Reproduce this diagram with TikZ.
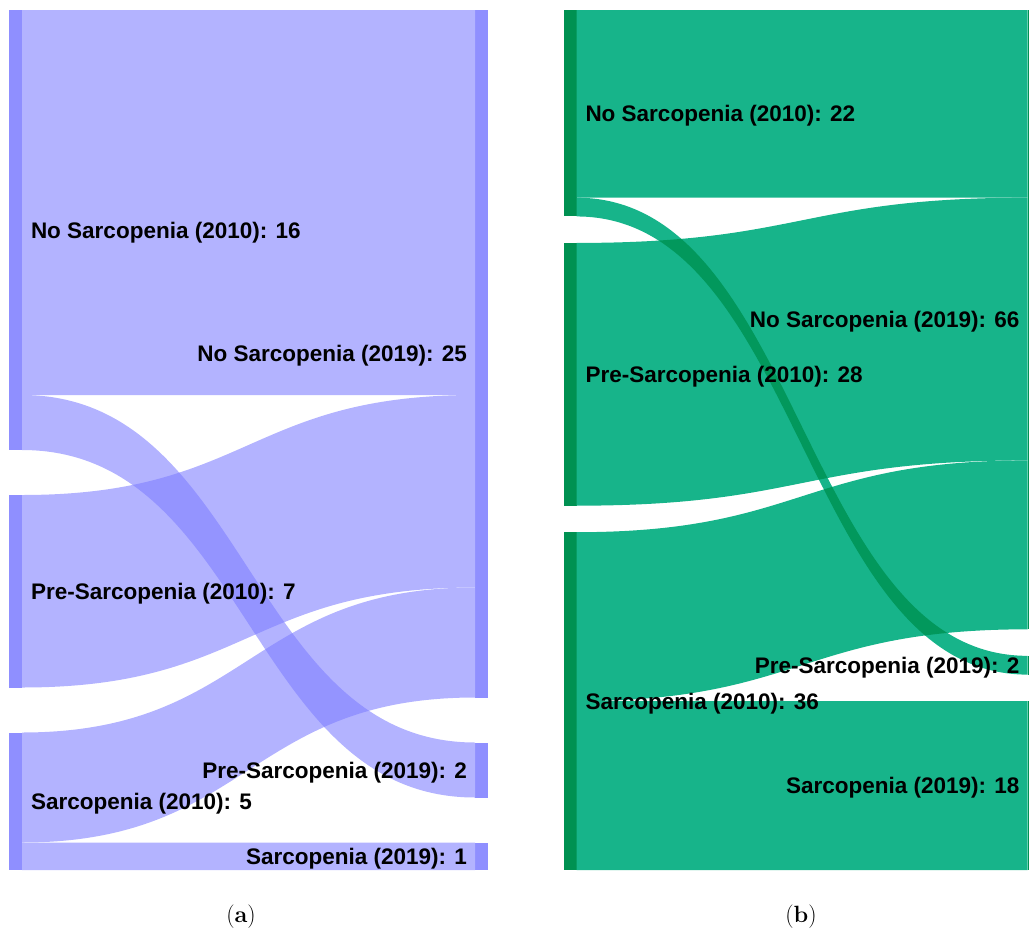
\documentclass[tikz,border=0pt]{standalone}
\usepackage{fontspec}
\newfontfamily\labfont{Liberation Sans}
\usetikzlibrary{calc}
\definecolor{nodeA}{RGB}{143,143,255}
\definecolor{flowA}{RGB}{179,179,255}
\definecolor{ovA}{RGB}{148,148,255}
\definecolor{nodeB}{RGB}{0,145,82}
\definecolor{flowB}{RGB}{23,180,138}
\definecolor{ovB}{RGB}{2,152,92}
% band of given thickness from point #2 (top left) to point #3 (top right)
\newcommand\sflow[4][]{%
  \path[#1] let \p1=(#2), \p2=(#3), \p3=($(\p1)!0.5!(\p2)$) in
  (\p1) .. controls (\x3,\y1) and (\x3,\y2) .. (\p2)
  -- (\x2,{\y2-#4}) .. controls (\x3,{\y2-#4}) and (\x3,{\y1-#4}) .. (\x1,{\y1-#4}) -- cycle;}
\tikzset{
  barbox/.style={rectangle, draw=none, inner sep=0pt, outer sep=0pt, minimum width=13pt, anchor=north west},
  barA/.style={barbox, fill=nodeA},
  barB/.style={barbox, fill=nodeB},
  lbl/.style={inner sep=0pt, outer sep=0pt, text=black, font=\labfont\bfseries\fontsize{22.5}{27}\selectfont},
  lblL/.style={lbl, anchor=base west},
  lblR/.style={lbl, anchor=base east},
  captext/.style={inner sep=0pt, anchor=base, font=\fontsize{23.5}{28}\selectfont}
}
\begin{document}
\begin{tikzpicture}[x=1pt,y=-1pt]
\path[use as bounding box] (0,0) rectangle (1029,930);
\clip (0,0) rectangle (1029,930);
% ---------------- panel (a) ----------------
\node[barA, minimum height=440pt] (aNo10) at (9,10) {};
\node[barA, minimum height=192.5pt] (aPre10) at (9,495) {};
\node[barA, minimum height=137.5pt] (aSar10) at (9,732.5) {};
\node[barA, minimum height=687.5pt] (aNo19) at (475,10) {};
\node[barA, minimum height=55pt] (aPre19) at (475,742.5) {};
\node[barA, minimum height=27.5pt] (aSar19) at (475,842.5) {};
\sflow[fill=flowA]{aNo10.north east}{aNo19.north west}{385pt}
\sflow[fill=flowA]{$(aNo10.north east)+(0,385)$}{aPre19.north west}{55pt}
\sflow[fill=flowA]{aPre10.north east}{$(aNo19.north west)+(0,385)$}{192.5pt}
\sflow[fill=flowA]{aSar10.north east}{$(aNo19.north west)+(0,577.5)$}{110pt}
\sflow[fill=flowA]{$(aSar10.north east)+(0,110)$}{aSar19.north west}{27.5pt}
\begin{scope}
  \sflow[clip]{$(aNo10.north east)+(0,385)$}{aPre19.north west}{55pt}
  \sflow[fill=ovA]{aPre10.north east}{$(aNo19.north west)+(0,385)$}{192.5pt}
  \sflow[fill=ovA]{aSar10.north east}{$(aNo19.north west)+(0,577.5)$}{110pt}
\end{scope}
\node[lblL] (laNo10) at ($(aNo10.east)+(9,8)$) {No Sarcopenia (2010): 16};
\node[lblL] (laPre10) at ($(aPre10.east)+(9,8)$) {Pre-Sarcopenia (2010): 7};
\node[lblL] (laSar10) at ($(aSar10.east)+(9,8)$) {Sarcopenia (2010): 5};
\node[lblR] (laNo19) at ($(aNo19.west)+(-8,8)$) {No Sarcopenia (2019): 25};
\node[lblR] (laPre19) at ($(aPre19.west)+(-8,8)$) {Pre-Sarcopenia (2019): 2};
\node[lblR] (laSar19) at ($(aSar19.west)+(-8,8)$) {Sarcopenia (2019): 1};
\node[captext] (capA) at (241,922) {(\textbf{a})};
% ---------------- panel (b) ----------------
\node[barB, minimum height=206.44pt] (bNo10) at (563.5,10) {};
\node[barB, minimum height=262.74pt] (bPre10) at (563.5,242.94) {};
\node[barB, minimum height=337.81pt] (bSar10) at (563.5,532.19) {};
\node[barB, minimum height=619.33pt] (bNo19) at (1027.5,10) {};
\node[barB, minimum height=18.77pt] (bPre19) at (1027.5,655.83) {};
\node[barB, minimum height=168.9pt] (bSar19) at (1027.5,701.1) {};
\sflow[fill=flowB]{bNo10.north east}{bNo19.north west}{187.67pt}
\sflow[fill=flowB]{$(bNo10.north east)+(0,187.67)$}{bPre19.north west}{18.77pt}
\sflow[fill=flowB]{bPre10.north east}{$(bNo19.north west)+(0,187.67)$}{262.74pt}
\sflow[fill=flowB]{bSar10.north east}{$(bNo19.north west)+(0,450.41)$}{168.9pt}
\sflow[fill=flowB]{$(bSar10.north east)+(0,168.9)$}{bSar19.north west}{168.9pt}
\begin{scope}
  \sflow[clip]{$(bNo10.north east)+(0,187.67)$}{bPre19.north west}{18.77pt}
  \sflow[fill=ovB]{bPre10.north east}{$(bNo19.north west)+(0,187.67)$}{262.74pt}
  \sflow[fill=ovB]{bSar10.north east}{$(bNo19.north west)+(0,450.41)$}{168.9pt}
\end{scope}
\node[lblL] (lbNo10) at ($(bNo10.east)+(9,8)$) {No Sarcopenia (2010): 22};
\node[lblL] (lbPre10) at ($(bPre10.east)+(9,8)$) {Pre-Sarcopenia (2010): 28};
\node[lblL] (lbSar10) at ($(bSar10.east)+(9,8)$) {Sarcopenia (2010): 36};
\node[lblR] (lbNo19) at ($(bNo19.west)+(-8,8)$) {No Sarcopenia (2019): 66};
\node[lblR] (lbPre19) at ($(bPre19.west)+(-8,8)$) {Pre-Sarcopenia (2019): 2};
\node[lblR] (lbSar19) at ($(bSar19.west)+(-8,8)$) {Sarcopenia (2019): 18};
\node[captext] (capB) at (801,922) {(\textbf{b})};
\end{tikzpicture}
\end{document}
